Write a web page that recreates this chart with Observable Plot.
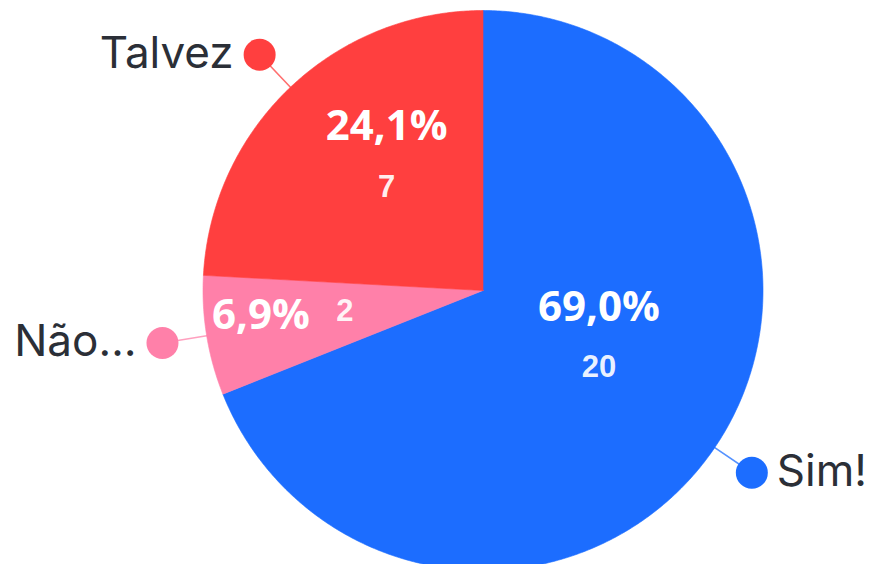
<!DOCTYPE html>
<html>
<head>
<meta charset="utf-8">
<script src="https://cdn.jsdelivr.net/npm/d3@7"></script>
<script src="https://cdn.jsdelivr.net/npm/@observablehq/plot@0.6"></script>
<style>
  html, body { margin: 0; padding: 0; background: #ffffff; }
  #chart { width: 871px; height: 564px; overflow: hidden; }
</style>
</head>
<body>
<div id="chart"></div>
<script>
// ---- data ----
const categories = ["Sim!", "Não…", "Talvez"];
const counts = [20, 2, 7];
const colors = ["#1c6dff", "#ff80a9", "#ff3f3f"];

// ---- layout constants ----
const W = 871, H = 564;
const CX = 482.5, CY = 290, R = 280;   // pixel centre and radius of the pie
const total = d3.sum(counts);

const slices = d3.pie().sort(null).startAngle(0).endAngle(2 * Math.PI)(counts)
  .map((s, i) => ({
    name: categories[i],
    count: counts[i],
    color: colors[i],
    pct: (counts[i] / total * 100).toFixed(1).replace(".", ",") + "%",
    a0: s.startAngle, a1: s.endAngle, mid: (s.startAngle + s.endAngle) / 2
  }));

// unit-circle coordinates (clockwise from top)
const px = (a, r) => r * Math.sin(a);
const py = (a, r) => r * Math.cos(a);

// polygon points of each wedge
const wedgePts = [];
for (const s of slices) {
  wedgePts.push({name: s.name, color: s.color, x: 0, y: 0});
  const n = Math.max(2, Math.ceil((s.a1 - s.a0) / (Math.PI / 360)));
  for (let k = 0; k <= n; k++) {
    const a = s.a0 + (s.a1 - s.a0) * k / n;
    wedgePts.push({name: s.name, color: s.color, x: px(a, 1), y: py(a, 1)});
  }
  wedgePts.push({name: s.name, color: s.color, x: 0, y: 0});
}

const dotR = 1.16;
const leaders = [];
slices.forEach(s => {
  leaders.push({name: s.name, color: s.color, x: px(s.mid, 1), y: py(s.mid, 1)});
  leaders.push({name: s.name, color: s.color, x: px(s.mid, dotR), y: py(s.mid, dotR)});
});
const dots = slices.map(s => ({...s, x: px(s.mid, dotR), y: py(s.mid, dotR)}));
const rightDots = dots.filter(d => Math.sin(d.mid) > 0);
const leftDots = dots.filter(d => Math.sin(d.mid) <= 0);
const countLabels = slices.map(s => ({...s, x: px(s.mid, 0.5), y: py(s.mid, 0.5)}));
const bigSlices = countLabels.filter(s => s.count / total >= 0.1);
const smallSlices = countLabels.filter(s => s.count / total < 0.1);

const font = "'Open Sans', 'DejaVu Sans', sans-serif";
const labelFont = "Inter, 'Noto Sans', sans-serif";

const chart = Plot.plot({
  width: W, height: H,
  marginTop: 0, marginRight: 0, marginBottom: 0, marginLeft: 0,
  x: {domain: [-CX / R, (W - CX) / R], axis: null},
  y: {domain: [(CY - H) / R, CY / R], axis: null},
  style: {background: "#ffffff", overflow: "visible"},
  marks: [
    Plot.line(leaders, {x: "x", y: "y", z: "name", stroke: "color", strokeWidth: 1.6, strokeOpacity: 0.75}),
    Plot.line(wedgePts, {x: "x", y: "y", z: "name", fill: "color", stroke: "color", strokeWidth: 0.6, curve: "linear"}),
    Plot.dot(dots, {x: "x", y: "y", r: 16, fill: "color", stroke: null}),
    Plot.text(rightDots, {
      x: "x", y: "y", text: "name", textAnchor: "start",
      dx: 25, dy: -1, fontSize: 44, fontFamily: labelFont, fill: "#2b2f37", lineAnchor: "middle"
    }),
    Plot.text(leftDots, {
      x: "x", y: "y", text: "name", textAnchor: "end",
      dx: -26, dy: -1, fontSize: 44, fontFamily: labelFont, fill: "#2b2f37", lineAnchor: "middle"
    }),
    // counts
    Plot.text(countLabels, {
      x: "x", y: "y", text: d => String(d.count),
      fontSize: 31, fontWeight: "bold", fontFamily: "'Liberation Sans', Arial, sans-serif",
      fill: "#ffffff", fillOpacity: 0.92, lineAnchor: "middle", dy: -2
    }),
    // percentages above counts for large slices
    Plot.text(bigSlices, {
      x: "x", y: "y", text: "pct",
      fontSize: 42, fontWeight: "bold", fontFamily: font,
      fill: "#ffffff", lineAnchor: "middle", dy: -62
    }),
    // percentages left of counts for small slices
    Plot.text(smallSlices, {
      x: "x", y: "y", text: "pct", textAnchor: "end",
      fontSize: 42, fontWeight: "bold", fontFamily: font,
      fill: "#ffffff", lineAnchor: "middle", dx: -35, dy: 2
    })
  ]
});

document.getElementById("chart").appendChild(chart);
</script>
</body>
</html>
